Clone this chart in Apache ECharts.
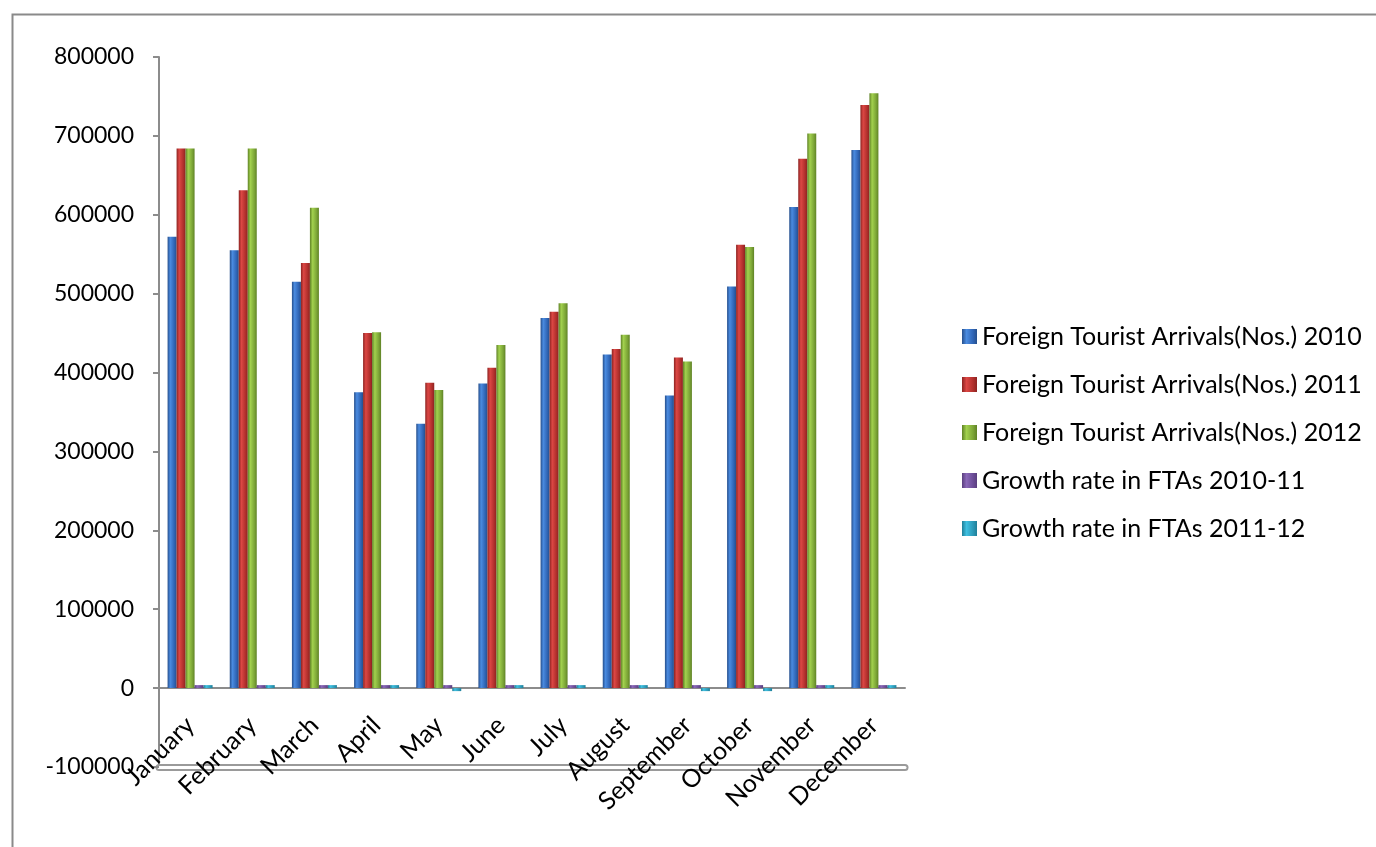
<!DOCTYPE html>
<html>
<head>
<meta charset="utf-8">
<script src="https://cdn.jsdelivr.net/npm/echarts@6/dist/echarts.min.js"></script>
<style>
  html, body { margin: 0; padding: 0; background: #fff; }
  #chart { width: 1376px; height: 847px; }
</style>
</head>
<body>
<div id="chart"></div>
<script>
const months = ['January', 'February', 'March', 'April', 'May', 'June', 'July', 'August', 'September', 'October', 'November', 'December']
const fta2010 = [572000, 555000, 515000, 375000, 335000, 386000, 469000, 423000, 371000, 509000, 610000, 682000]
const fta2011 = [684000, 631000, 539000, 450000, 387000, 406000, 477000, 430000, 419000, 562000, 671000, 739000]
const fta2012 = [684000, 684000, 609000, 451000, 378000, 435000, 488000, 448000, 414000, 559000, 703000, 754000]
const growth1011 = [19.6, 13.7, 4.7, 20.0, 15.5, 5.2, 1.7, 1.7, 12.9, 10.2, 10.0, 8.5]
const growth1112 = [0.0, 8.5, 13.0, 0.2, -2.3, 7.1, 2.3, 4.2, -1.2, -0.5, 4.9, 2.0]
const yTicks = [-100000, 800000, 100000] // min, max, step

const chart = echarts.init(document.getElementById('chart'), null, { renderer: 'canvas' })
const FONT = 'Lato'
const AXIS_GREY = '#8c8c8c'

const gridTop = 57
const gridBottom = 80
const plotH = 847 - gridTop - gridBottom
// distance from the bottom edge (min) up to the zero line
const zeroLift = plotH * (0 - yTicks[0]) / (yTicks[1] - yTicks[0])

// cylinder-ish shading, light on the left, dark at the edges
const cyl = (edge, light, dark) => new echarts.graphic.LinearGradient(0, 0, 1, 0, [
  { offset: 0, color: edge },
  { offset: 0.3, color: light },
  { offset: 0.75, color: dark },
  { offset: 1, color: edge }
])

const makeSeries = (name, data, color, extra) => Object.assign({
  name: name,
  type: 'bar',
  data: data,
  barWidth: 9,
  barGap: '0%',
  itemStyle: { color: color }
}, extra || {})

const option = {
  animation: false,
  graphic: [
    {
      type: 'rect',
      left: 10,
      top: 12,
      shape: { width: 1400, height: 900 },
      style: { fill: 'none', stroke: '#8a8a8a', lineWidth: 2 },
      silent: true
    }
  ],
  grid: { left: 159, right: 471, top: gridTop, bottom: gridBottom, containLabel: false, outerBoundsMode: 'none' },
  legend: {
    orient: 'vertical',
    left: 957,
    top: 319,
    icon: 'rect',
    itemWidth: 15,
    itemHeight: 15,
    itemGap: 23,
    textStyle: { fontFamily: FONT, fontSize: 25, color: '#000' },
    data: [
      'Foreign Tourist Arrivals(Nos.) 2010',
      'Foreign Tourist Arrivals(Nos.) 2011',
      'Foreign Tourist Arrivals(Nos.) 2012',
      'Growth rate in FTAs 2010-11',
      'Growth rate in FTAs 2011-12'
    ]
  },
  xAxis: [
    {
      // category axis sitting on the zero line
      type: 'category',
      data: months,
      position: 'bottom',
      offset: -zeroLift,
      axisLine: { onZero: false, lineStyle: { color: AXIS_GREY, width: 2 } },
      axisTick: { length: 8, lineStyle: { color: AXIS_GREY, width: 2 } },
      axisLabel: {
        rotate: 45,
        interval: 0,
        margin: 33,
        fontFamily: FONT,
        fontSize: 25,
        color: '#000'
      }
    },
    {
      // the floor plate at -100000
      type: 'category',
      data: months,
      position: 'bottom',
      offset: 0,
      axisLine: { onZero: false, lineStyle: { color: '#9a9a9a', width: 7 } },
      axisTick: { show: false },
      axisLabel: { show: false }
    },
    {
      type: 'category',
      data: months,
      position: 'bottom',
      offset: 0,
      axisLine: { onZero: false, lineStyle: { color: '#ffffff', width: 3 } },
      axisTick: { show: false },
      axisLabel: { show: false }
    }
  ],
  yAxis: {
    type: 'value',
    min: yTicks[0],
    max: yTicks[1],
    interval: yTicks[2],
    axisLine: { show: true, lineStyle: { color: AXIS_GREY, width: 2 } },
    axisTick: { show: true, length: 6, lineStyle: { color: AXIS_GREY, width: 2 } },
    splitLine: { show: false },
    axisLabel: {
      margin: 25,
      fontFamily: FONT,
      fontSize: 23,
      color: '#000',
      formatter: (v) => String(v)
    }
  },
  series: [
    makeSeries('Foreign Tourist Arrivals(Nos.) 2010', fta2010, cyl('#264f8c', '#4a8be0', '#2f64b4')),
    makeSeries('Foreign Tourist Arrivals(Nos.) 2011', fta2011, cyl('#8c2321', '#dc4744', '#b02f2c')),
    makeSeries('Foreign Tourist Arrivals(Nos.) 2012', fta2012, cyl('#5f8226', '#a2d14e', '#7ba436')),
    makeSeries('Growth rate in FTAs 2010-11', growth1011, cyl('#5a3f7e', '#8a68b8', '#6b4c96'), { barMinHeight: 3 }),
    makeSeries('Growth rate in FTAs 2011-12', growth1112, cyl('#1f7f98', '#3fbfe0', '#2b98b6'), { barMinHeight: 3 })
  ]
}

chart.setOption(option)
window.addEventListener('resize', function () {
  chart.resize()
})
</script>
</body>
</html>
